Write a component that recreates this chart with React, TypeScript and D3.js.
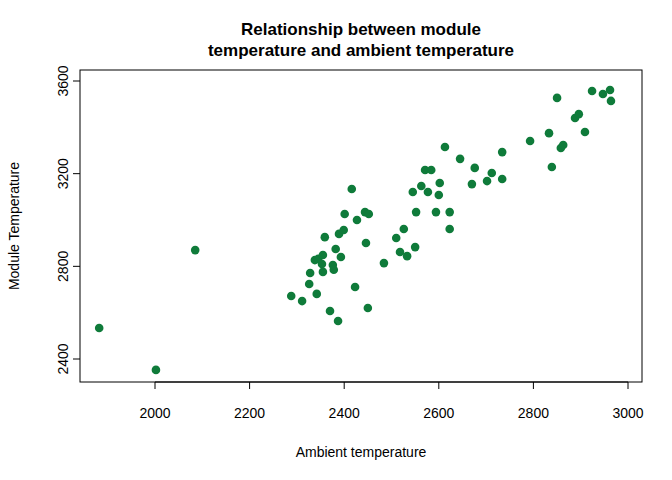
import * as d3 from "d3";

const ambient = [1882, 2002, 2085, 2288, 2311, 2326, 2328, 2338, 2345, 2342, 2353, 2355, 2355, 2359, 2370, 2376, 2378, 2382, 2387, 2389, 2393, 2399, 2401, 2416, 2423, 2427, 2444, 2446, 2450, 2452, 2484, 2510, 2518, 2526, 2533, 2545, 2550, 2552, 2563, 2571, 2577, 2584, 2594, 2600, 2602, 2613, 2623, 2623, 2645, 2670, 2676, 2702, 2712, 2734, 2734, 2793, 2833, 2839, 2850, 2858, 2863, 2888, 2896, 2909, 2924, 2947, 2962, 2964];
const module = [2534, 2353, 2870, 2672, 2650, 2724, 2771, 2827, 2832, 2681, 2810, 2849, 2776, 2926, 2607, 2806, 2785, 2875, 2564, 2940, 2840, 2957, 3026, 3134, 2711, 3000, 3034, 2901, 2620, 3026, 2814, 2922, 2862, 2961, 2844, 3121, 2883, 3034, 3147, 3216, 3121, 3216, 3034, 3108, 3160, 3315, 3034, 2961, 3264, 3155, 3225, 3168, 3203, 3293, 3177, 3341, 3375, 3229, 3527, 3311, 3324, 3440, 3457, 3380, 3557, 3544, 3561, 3514];
const xTicks = [2000, 2200, 2400, 2600, 2800, 3000];
const yTicks = [2400, 2800, 3200, 3600];

const box = { left: 80, right: 642, top: 70, bottom: 382 };

export default function App() {
  const x = d3.scaleLinear().domain([2000, 3000]).range([155, 628]);
  const y = d3.scaleLinear().domain([2400, 3600]).range([359, 81]);
  const font = "'Liberation Sans', Arial, sans-serif";
  return (
    <svg width={672} height={480} style={{ position: "absolute", left: 0, top: 0 }} fontFamily={font}>
      <rect width={672} height={480} fill="white" />
      <text x={361} y={35} textAnchor="middle" fontWeight="bold" fontSize={17}>Relationship between module</text>
      <text x={361} y={56} textAnchor="middle" fontWeight="bold" fontSize={17}>temperature and ambient temperature</text>
      <rect x={box.left} y={box.top} width={box.right - box.left} height={box.bottom - box.top} fill="none" stroke="black" />
      {xTicks.map((t) => (
        <g key={t}>
          <line x1={x(t)} x2={x(t)} y1={box.bottom} y2={box.bottom + 7} stroke="black" />
          <text x={x(t)} y={418} textAnchor="middle" fontSize={14}>{t}</text>
        </g>
      ))}
      <line x1={x(2000)} x2={x(3000)} y1={box.bottom} y2={box.bottom} stroke="black" />
      {yTicks.map((t) => (
        <g key={t}>
          <line x1={box.left - 7} x2={box.left} y1={y(t)} y2={y(t)} stroke="black" />
          <text transform={`translate(68,${y(t)}) rotate(-90)`} textAnchor="middle" fontSize={14}>{t}</text>
        </g>
      ))}
      <text x={361} y={457} textAnchor="middle" fontSize={14}>Ambient temperature</text>
      <text transform={`translate(19,226) rotate(-90)`} textAnchor="middle" fontSize={14}>Module Temperature</text>
      {ambient.map((a, i) => (
        <circle key={i} cx={x(a)} cy={y(module[i])} r={4.3} fill="#0f7b3a" />
      ))}
    </svg>
  );
}
